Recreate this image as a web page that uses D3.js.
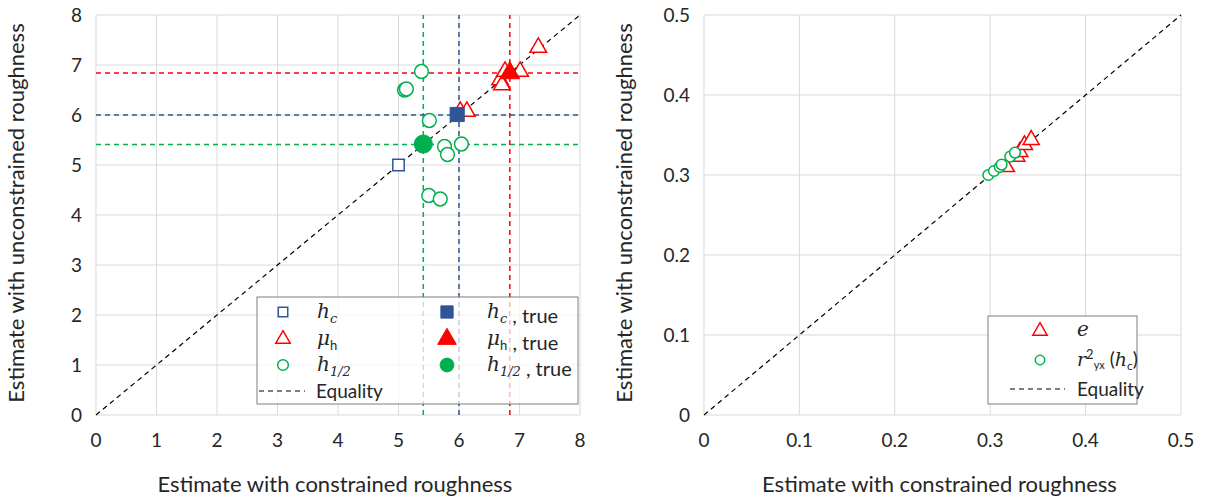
<head>
<meta charset="utf-8">
<style>
  body { margin: 0; background: #fff; }
  text { font-family: Lato, "Open Sans", sans-serif; fill: #262626; }
  .math { font-family: "DejaVu Serif", "Liberation Serif", serif; font-style: italic; }
</style>
<script src="https://d3js.org/d3.v7.min.js"></script>
</head>
<body>
<div id="chart"></div>
<script>
// left panel data
var hcX = [5.0], hcY = [5.0];
var hcTrueX = [5.97], hcTrueY = [6.01];
var muX = [6.02, 6.13, 6.68, 6.71, 6.76, 7.01, 7.31];
var muY = [6.07, 6.07, 6.70, 6.60, 6.87, 6.87, 7.35];
var muTrueX = [6.84], muTrueY = [6.84];
var halfX = [5.38, 5.10, 5.13, 5.51, 5.76, 5.81, 6.04, 5.50, 5.69];
var halfY = [6.87, 6.50, 6.52, 5.89, 5.37, 5.21, 5.42, 4.39, 4.32];
var halfTrueX = [5.41], halfTrueY = [5.42];
var leftTicks = [0, 1, 2, 3, 4, 5, 6, 7, 8];

// right panel data
var eX = [0.317, 0.328, 0.331, 0.336, 0.343];
var eY = [0.310, 0.323, 0.329, 0.3375, 0.344];
var rX = [0.298, 0.304, 0.310, 0.312, 0.321, 0.326];
var rY = [0.300, 0.305, 0.310, 0.313, 0.323, 0.328];
var rightTicks = [0, 0.1, 0.2, 0.3, 0.4, 0.5];

var W = 1205, H = 499;
var blue = "#2f5597", red = "#ff0000", green = "#00b050";

var svg = d3.select("#chart").append("svg").attr("width", W).attr("height", H);

function zip(a, b) { return a.map(function(v, i) { return [v, b[i]]; }); }

function marker(g, type, filled, col, size) {
    var sym = type == "square" ? d3.symbolSquare : type == "triangle" ? d3.symbolTriangle : d3.symbolCircle;
    return g.append("path")
        .attr("d", d3.symbol().type(sym).size(size))
        .attr("fill", filled ? col : "#fff")
        .attr("stroke", col)
        .attr("stroke-width", filled ? 1 : 1.5);
}

function panel(x0, x1, maxV, ticks, fmt) {
    var x = d3.scaleLinear().domain([0, maxV]).range([x0, x1]);
    var y = d3.scaleLinear().domain([0, maxV]).range([415, 15]);
    var g = svg.append("g");

    g.selectAll(".gx").data(ticks.slice(1)).enter().append("line")
        .attr("x1", d => x(d)).attr("x2", d => x(d)).attr("y1", y(0)).attr("y2", y(maxV))
        .attr("stroke", "#d9d9d9").attr("stroke-width", 1);
    g.selectAll(".gy").data(ticks.slice(1)).enter().append("line")
        .attr("x1", x(0)).attr("x2", x(maxV)).attr("y1", d => y(d)).attr("y2", d => y(d))
        .attr("stroke", "#d9d9d9").attr("stroke-width", 1);
    g.append("line").attr("x1", x(0)).attr("x2", x(0)).attr("y1", y(0)).attr("y2", y(maxV))
        .attr("stroke", "#d9d9d9");
    g.append("line").attr("x1", x(0)).attr("x2", x(maxV)).attr("y1", y(0)).attr("y2", y(0))
        .attr("stroke", "#d9d9d9");

    g.selectAll(".tx").data(ticks).enter().append("text")
        .attr("x", d => x(d)).attr("y", 447).attr("text-anchor", "middle")
        .attr("font-size", 19).text(fmt);
    g.selectAll(".ty").data(ticks).enter().append("text")
        .attr("x", x(0) - 14).attr("y", d => y(d) + 7).attr("text-anchor", "end")
        .attr("font-size", 19).text(fmt);

    g.append("text").attr("x", (x0 + x1) / 2 - 3).attr("y", 492).attr("text-anchor", "middle")
        .attr("font-size", 22).text("Estimate with constrained roughness");
    g.append("text").attr("transform", "translate(" + (x0 - 72) + "," + (y(maxV / 2) - 2) + ") rotate(-90)")
        .attr("text-anchor", "middle").attr("font-size", 22)
        .text("Estimate with unconstrained roughness");

    g.append("line").attr("x1", x(0)).attr("y1", y(0)).attr("x2", x(maxV)).attr("y2", y(maxV))
        .attr("stroke", "#000").attr("stroke-width", 1.2).attr("stroke-dasharray", "5,4");

    return { g: g, x: x, y: y };
}

function scatter(p, xs, ys, type, filled, col, size) {
    zip(xs, ys).forEach(function(d) {
        marker(p.g, type, filled, col, size)
            .attr("transform", "translate(" + p.x(d[0]) + "," + p.y(d[1]) + ")");
    });
}

function refLines(p, v, col) {
    p.g.append("line").attr("x1", p.x(v)).attr("x2", p.x(v)).attr("y1", p.y(0)).attr("y2", p.y(8))
        .attr("stroke", col).attr("stroke-width", 1.5).attr("stroke-dasharray", "5,4");
    p.g.append("line").attr("x1", p.x(0)).attr("x2", p.x(8)).attr("y1", p.y(v)).attr("y2", p.y(v))
        .attr("stroke", col).attr("stroke-width", 1.5).attr("stroke-dasharray", "5,4");
}

function mathLabel(t, base, sub, extra) {
    t.append("tspan").attr("class", "math").text(base);
    if (sub) {
        t.append("tspan").attr("font-size", 13).attr("dy", 5)
            .attr("class", sub == "h" ? "" : "math").text(sub);
        t.append("tspan").attr("dy", -5).text("");
    }
    if (extra) t.append("tspan").text(extra);
}

// ---- left panel
var L = panel(96, 580, 8, leftTicks, d => d);
refLines(L, halfTrueX[0], green);
refLines(L, 6.0, blue);
refLines(L, muTrueX[0], red);

scatter(L, hcX, hcY, "square", false, blue, 130);
scatter(L, halfX, halfY, "circle", false, green, 150);
scatter(L, muX, muY, "triangle", false, red, 120);
scatter(L, hcTrueX, hcTrueY, "square", true, blue, 200);
scatter(L, muTrueX, muTrueY, "triangle", true, red, 170);
scatter(L, halfTrueX, halfTrueY, "circle", true, green, 260);

var lg = L.g.append("g");
lg.append("rect").attr("x", 257).attr("y", 297).attr("width", 321).attr("height", 107)
    .attr("fill", "#fff").attr("fill-opacity", 0.72).attr("stroke", "#7f7f7f");
var leftRows = [
    [283, 312, "square", false, blue, 317, ["h", "c", ""]],
    [283, 339, "triangle", false, red, 317, ["μ", "h", ""]],
    [283, 365, "circle", false, green, 317, ["h", "1/2", ""]],
    [447, 312, "square", true, blue, 487, ["h", "c", " , true"]],
    [447, 339, "triangle", true, red, 487, ["μ", "h", " , true"]],
    [447, 365, "circle", true, green, 487, ["h", "1/2", " , true"]]
];
leftRows.forEach(function(r) {
    marker(lg, r[2], r[3], r[4], r[3] ? 150 : 90).attr("transform", "translate(" + r[0] + "," + r[1] + ")");
    var t = lg.append("text").attr("x", r[5]).attr("y", r[1] + 6).attr("font-size", 20);
    mathLabel(t, r[6][0], r[6][1], r[6][2]);
});
lg.append("line").attr("x1", 259).attr("x2", 305).attr("y1", 391).attr("y2", 391)
    .attr("stroke", "#000").attr("stroke-width", 1.2).attr("stroke-dasharray", "5,4");
lg.append("text").attr("x", 316).attr("y", 398).attr("font-size", 19).text("Equality");

// ---- right panel
var R = panel(704, 1181, 0.5, rightTicks, d => d);
scatter(R, eX, eY, "triangle", false, red, 110);
scatter(R, rX, rY, "circle", false, green, 90);

var rg = R.g.append("g");
rg.append("rect").attr("x", 988).attr("y", 316).attr("width", 149).attr("height", 88)
    .attr("fill", "#fff").attr("stroke", "#7f7f7f");
marker(rg, "triangle", false, red, 90).attr("transform", "translate(1040,331)");
var t1 = rg.append("text").attr("x", 1077).attr("y", 336).attr("font-size", 20);
mathLabel(t1, "e", null, "");
marker(rg, "circle", false, green, 70).attr("transform", "translate(1040,360)");
var t2 = rg.append("text").attr("x", 1077).attr("y", 366).attr("font-size", 19);
t2.append("tspan").attr("class", "math").text("r");
t2.append("tspan").attr("font-size", 13).attr("dy", -7).text("2");
t2.append("tspan").attr("font-size", 11).attr("dy", 10).text("yx");
t2.append("tspan").attr("dy", -3).text(" (");
t2.append("tspan").attr("class", "math").text("h");
t2.append("tspan").attr("font-size", 12).attr("dy", 4).text("c");
t2.append("tspan").attr("dy", -4).text(")");
rg.append("line").attr("x1", 1010).attr("x2", 1065).attr("y1", 389).attr("y2", 389)
    .attr("stroke", "#000").attr("stroke-width", 1.2).attr("stroke-dasharray", "5,4");
rg.append("text").attr("x", 1077).attr("y", 396).attr("font-size", 19).text("Equality");
</script>
</body>
